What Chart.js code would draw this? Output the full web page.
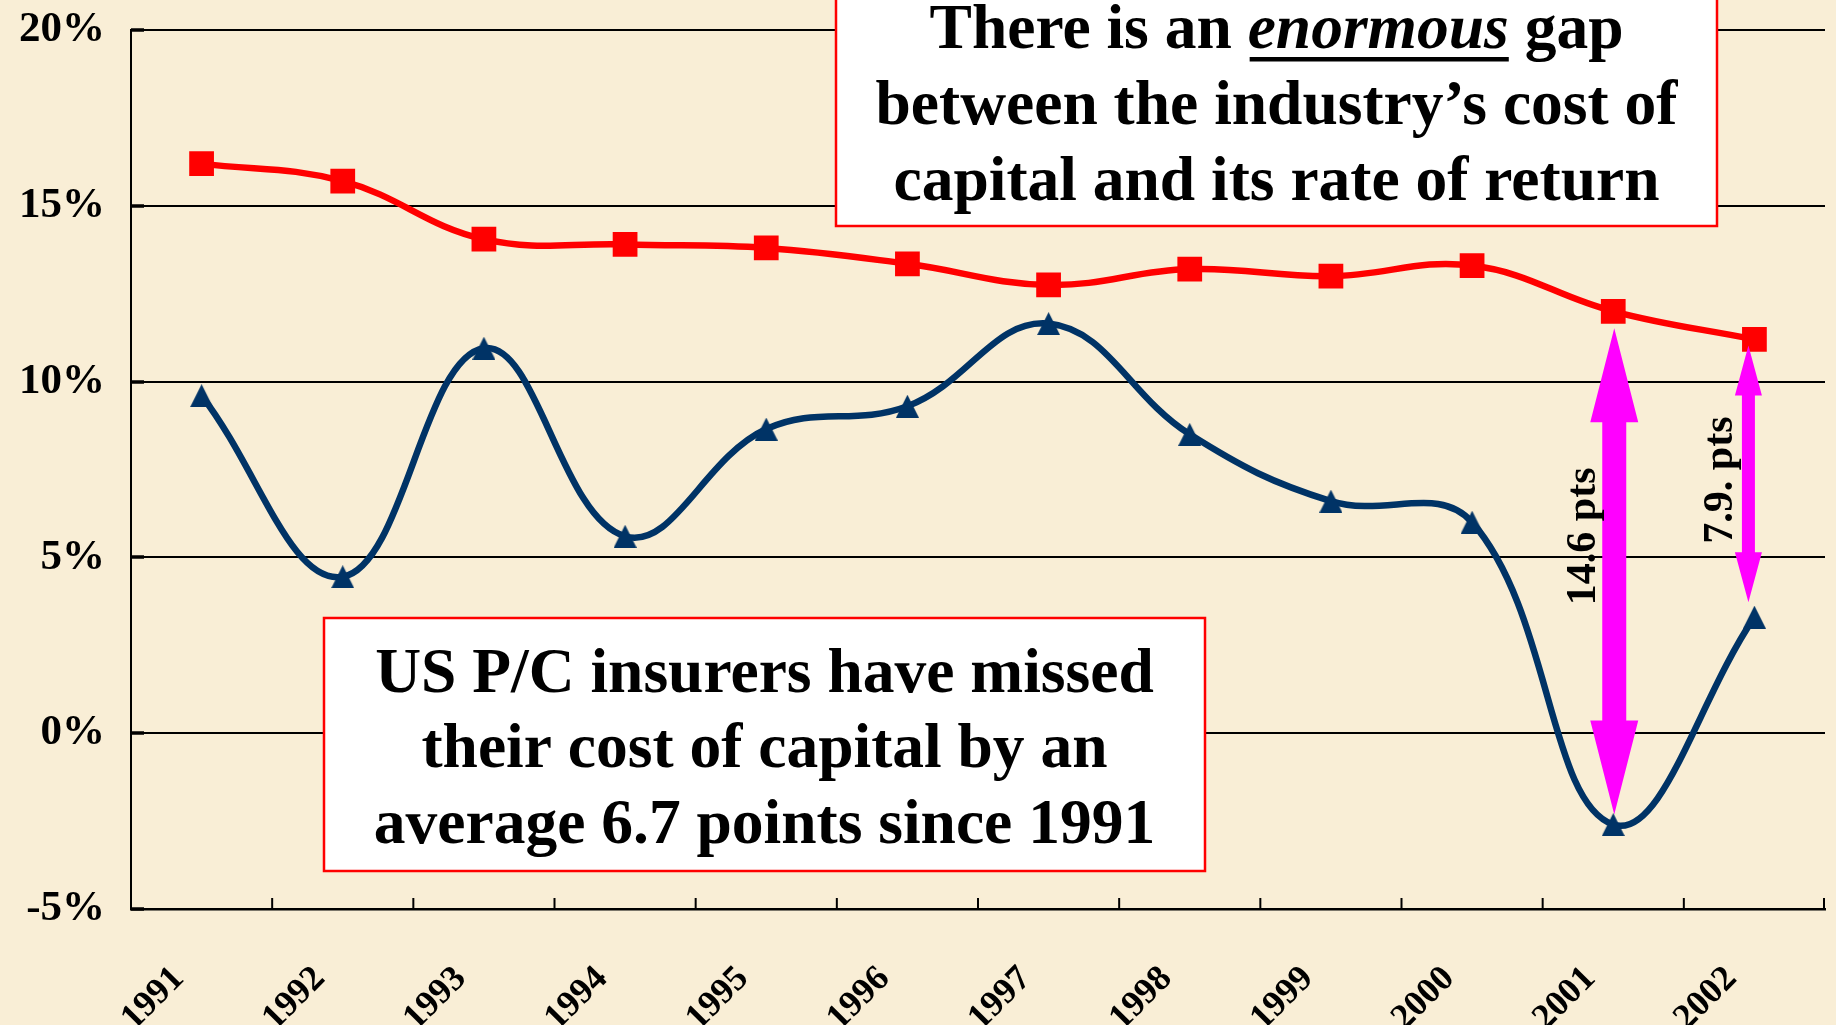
<!DOCTYPE html>
<html>
<head>
<meta charset="utf-8">
<script src="https://cdn.jsdelivr.net/npm/chart.js@4.4.1/dist/chart.umd.min.js"></script>
<style>
  html, body { margin: 0; padding: 0; background: #F9EED6; }
  #wrap { position: relative; width: 1836px; height: 1025px; overflow: hidden; }
  canvas { display: block; }
</style>
</head>
<body>
<div id="wrap"><canvas id="c" width="1836" height="1025"></canvas></div>
<script>
// ---- data ----
const years = ['1991','1992','1993','1994','1995','1996','1997','1998','1999','2000','2001','2002'];
const costOfCapital = [16.2, 15.7, 14.05, 13.9, 13.8, 13.35, 12.75, 13.2, 13.0, 13.3, 12.0, 11.2];
const rateOfReturn  = [9.6, 4.45, 10.95, 5.6, 8.65, 9.3, 11.65, 8.5, 6.6, 6.0, -2.6, 3.3];
const yTicks = [-5, 0, 5, 10, 15, 20];
const gapYears  = ['2001', '2002'];
const gapLabels = ['14.6 pts', '7.9. pts'];
const noteTop = [
  [['There is an ', 'n'], ['enormous', 'iu'], [' gap', 'n']],
  [['between the industry\u2019s cost of', 'n']],
  [['capital and its rate of return', 'n']]
];
const noteBottom = ['US P/C insurers have missed', 'their cost of capital by an', 'average 6.7 points since 1991'];

const FAM = '"Liberation Serif", "Times New Roman", Times, serif';

// triangle marker image (centred on its bounding box, like the original)
const triMarker = document.createElement('canvas');
triMarker.width = 23; triMarker.height = 23;
(function () {
  const c = triMarker.getContext('2d');
  c.fillStyle = '#003366';
  c.beginPath(); c.moveTo(0, 23); c.lineTo(11.5, 0); c.lineTo(23, 23); c.closePath(); c.fill();
})();

// ---- annotation plugin ----
const arrowStyles = [
  { shaft: 24, headW: 48, headL: 94, gapTop: 17, gapBot: 10, dx: 1, labelDx: -19, labelY: 5.6 },
  { shaft: 13, headW: 27, headL: 50, gapTop: 6,  gapBot: 15, dx: -6, labelDx: -16, labelY: 7.2 }
];

const annot = {
  id: 'annot',
  beforeDatasetsDraw(chart) {
    const { ctx, chartArea: a, scales: { x, y } } = chart;
    ctx.save();
    ctx.strokeStyle = '#000';
    ctx.lineWidth = 2;
    yTicks.forEach(v => {
      const py = Math.round(y.getPixelForValue(v));
      ctx.beginPath(); ctx.moveTo(a.left, py); ctx.lineTo(x.right, py); ctx.stroke();
    });
    ctx.lineWidth = 2;
    for (let i = 0; i < years.length; i++) {
      const px = i < years.length - 1 ? (x.getPixelForValue(i) + x.getPixelForValue(i + 1)) / 2 : x.right - 1;
      ctx.beginPath(); ctx.moveTo(px, a.bottom); ctx.lineTo(px, a.bottom - 11); ctx.stroke();
    }
    ctx.lineWidth = 3.5;
    yTicks.forEach(v => {
      const py = Math.round(y.getPixelForValue(v));
      ctx.beginPath(); ctx.moveTo(a.left, py); ctx.lineTo(a.left + 13, py); ctx.stroke();
    });
    ctx.restore();
  },
  afterDatasetsDraw(chart) {
    const { ctx, scales: { x, y } } = chart;
    ctx.save();
    gapYears.forEach((yr, k) => {
      const i = years.indexOf(yr);
      const st = arrowStyles[k];
      const cx = x.getPixelForValue(i) + st.dx;
      const yT = y.getPixelForValue(costOfCapital[i]) + st.gapTop;
      const yB = y.getPixelForValue(rateOfReturn[i]) - st.gapBot;
      const hw = st.headW / 2, sw = st.shaft / 2;
      ctx.fillStyle = '#FF00FF';
      ctx.beginPath();
      ctx.moveTo(cx, yT);
      ctx.lineTo(cx + hw, yT + st.headL);
      ctx.lineTo(cx + sw, yT + st.headL);
      ctx.lineTo(cx + sw, yB - st.headL);
      ctx.lineTo(cx + hw, yB - st.headL);
      ctx.lineTo(cx, yB);
      ctx.lineTo(cx - hw, yB - st.headL);
      ctx.lineTo(cx - sw, yB - st.headL);
      ctx.lineTo(cx - sw, yT + st.headL);
      ctx.lineTo(cx - hw, yT + st.headL);
      ctx.closePath();
      ctx.fill();
      ctx.save();
      ctx.translate(cx + st.labelDx, y.getPixelForValue(st.labelY));
      ctx.rotate(-Math.PI / 2);
      ctx.fillStyle = '#000';
      ctx.font = 'bold 42px ' + FAM;
      ctx.textAlign = 'center';
      ctx.textBaseline = 'alphabetic';
      ctx.fillText(gapLabels[k], 0, 0);
      ctx.restore();
    });
    ctx.restore();
  },
  afterDraw(chart) {
    const { ctx } = chart;
    const F = 'bold 63.5px ' + FAM;
    const FI = 'italic bold 63.5px ' + FAM;
    function box(x0, y0, w, h) {
      ctx.fillStyle = '#FFFFFF';
      ctx.fillRect(x0, y0, w, h);
      ctx.strokeStyle = '#FF0000';
      ctx.lineWidth = 2.5;
      ctx.strokeRect(x0, y0, w, h);
    }
    ctx.save();
    box(836, -20, 881, 246);
    const cxT = 836 + 881 / 2;
    const baseT = [48, 124, 200];
    ctx.fillStyle = '#000';
    ctx.textBaseline = 'alphabetic';
    ctx.textAlign = 'left';
    noteTop.forEach((segs, li) => {
      let total = 0;
      segs.forEach(s => { ctx.font = s[1] === 'n' ? F : FI; total += ctx.measureText(s[0]).width; });
      let xx = cxT - total / 2;
      segs.forEach(s => {
        ctx.font = s[1] === 'n' ? F : FI;
        const w = ctx.measureText(s[0]).width;
        ctx.fillText(s[0], xx, baseT[li]);
        if (s[1].includes('u')) {
          ctx.fillRect(xx + 2, baseT[li] + 9, w - 2, 4.5);
        }
        xx += w;
      });
    });
    box(324, 618, 881, 253);
    const cxB = 324 + 881 / 2;
    const baseB = [692, 767, 843];
    ctx.fillStyle = '#000';
    ctx.font = F;
    ctx.textAlign = 'center';
    noteBottom.forEach((t, li) => ctx.fillText(t, cxB, baseB[li]));
    ctx.restore();
  }
};

new Chart(document.getElementById('c'), {
  type: 'line',
  data: {
    labels: years,
    datasets: [
      {
        label: 'Cost of capital',
        data: costOfCapital,
        borderColor: '#FF0000',
        backgroundColor: '#FF0000',
        borderWidth: 6.5,
        tension: 0.4,
        pointStyle: 'rect',
        pointRadius: 17.5,
        pointBorderWidth: 0,
        pointBackgroundColor: '#FF0000'
      },
      {
        label: 'Rate of return',
        data: rateOfReturn,
        borderColor: '#003366',
        backgroundColor: '#003366',
        borderWidth: 6.5,
        tension: 0.4,
        pointStyle: triMarker,
        pointRadius: 12,
        pointBorderWidth: 0,
        pointBackgroundColor: '#003366'
      }
    ]
  },
  options: {
    responsive: false,
    animation: false,
    devicePixelRatio: 1,
    layout: { autoPadding: false, padding: { top: 30, right: 11, bottom: 0, left: 0 } },
    plugins: { legend: { display: false }, tooltip: { enabled: false } },
    scales: {
      x: {
        type: 'category',
        offset: true,
        grid: { display: false, drawTicks: true, tickLength: 49 },
        border: { display: true, color: '#000', width: 2.5 },
        ticks: {
          autoSkip: false, minRotation: 45, maxRotation: 45,
          padding: 0, labelOffset: -23, color: '#000',
          font: { family: FAM, size: 36, weight: 'bold' }
        },
        afterFit(s) { s.height = 116; }
      },
      y: {
        min: -5, max: 20,
        afterBuildTicks(s) { s.ticks = yTicks.map(v => ({ value: v })); },
        ticks: {
          padding: 0, color: '#000',
          font: { family: FAM, size: 43, weight: 'bold' },
          callback: v => v + '%'
        },
        grid: { display: false, drawTicks: true, tickLength: 26 },
        border: { display: true, color: '#000', width: 2 },
        afterFit(s) { s.width = 131; }
      }
    }
  },
  plugins: [annot]
});
</script>
</body>
</html>
